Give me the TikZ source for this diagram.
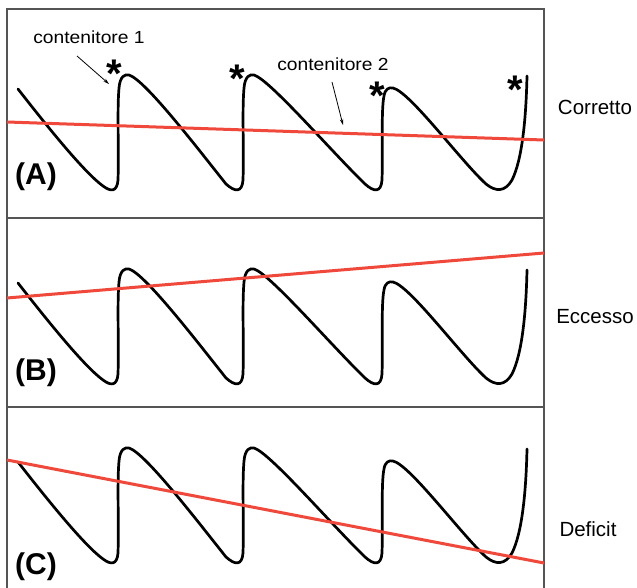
\documentclass[tikz,border=0pt]{standalone}
\usepackage{fontspec}
\setmainfont{Liberation Sans}
\usetikzlibrary{arrows.meta}
\definecolor{redline}{RGB}{240,72,58}
\definecolor{framegray}{RGB}{85,85,85}
\tikzset{
  wave/.style={line width=2.7pt, black, line join=round, line cap=round},
  trend/.style={line width=3pt, redline},
  panel/.style={line width=1.4pt, framegray},
  lab/.style={font=\fontsize{20.5}{24}\selectfont, inner sep=0pt},
  tag/.style={font=\fontsize{30}{34}\selectfont\bfseries, inner sep=0pt},
  note/.style={font=\fontsize{17.5}{20}\selectfont, inner sep=0pt},
  pointer/.style={line width=0.8pt, -{Stealth[length=6pt,width=3.5pt]}},
  astr/.style={font=\fontsize{40}{44}\selectfont\bfseries, inner sep=0pt, anchor=base},
}
\begin{document}
\begin{tikzpicture}[x=1pt,y=-1pt]
\useasboundingbox (0,0) rectangle (637,588);
% frame
\draw[panel] (7,588) -- (7,9) -- (544,9) -- (544,588);
\draw[panel] (7,218) -- (544,218);
\draw[panel] (7,407) -- (544,407);
% waves
\foreach \dy in {0,194,373}{
\begin{scope}[shift={(0,\dy)}]
\draw[wave] (18,89) .. controls (50,130) and (85,173) .. (103,186)
  .. controls (111,192) and (117,192) .. (118,180)
  .. controls (119,150) and (117,110) .. (119,88)
  .. controls (120,76) and (125,74) .. (129,75)
  .. controls (145,80) and (195,145) .. (226,184)
  .. controls (235,192) and (242,193) .. (243,180)
  .. controls (244,150) and (242,110) .. (244,88)
  .. controls (245,76) and (250,74) .. (254,75)
  .. controls (270,80) and (330,150) .. (365,184)
  .. controls (374,192) and (381,193) .. (382,180)
  .. controls (383,150) and (381,110) .. (384,96)
  .. controls (385,89) and (389,87) .. (393,88)
  .. controls (410,92) and (460,160) .. (486,184)
  .. controls (496,192) and (505,192) .. (512,180)
  .. controls (522,160) and (526,120) .. (527,76);
\end{scope}
}
% trend lines
\draw[trend] (7,122) -- (544,140);
\draw[trend] (7,298) -- (544,253);
\draw[trend] (7,460) -- (544,563);
% stars
\node[astr] (s1) at (114,88) {*};
\node[astr] (s2) at (237,93) {*};
\node[astr] (s3) at (377,110) {*};
\node[astr] (s4) at (515,104) {*};
% labels
\node[note] (c1) at (89,37.5) {\scalebox{1.1}[1]{contenitore 1}};
\node[note] (c2) at (333,64) {\scalebox{1.1}[1]{contenitore 2}};
\coordinate (c1s) at (77,56);
\coordinate (c1e) at (109,84);
\coordinate (c2s) at (332,82);
\coordinate (c2e) at (343,125);
\draw[pointer] (c1s) -- (c1e);
\draw[pointer] (c2s) -- (c2e);
\node[tag] (ta) at (36,177) {(A)};
\node[tag] (tb) at (36,373) {(B)};
\node[tag] (tc) at (36,567) {(C)};
\node[lab] (la) at (595,107) {Corretto};
\node[lab] (lb) at (595,317) {Eccesso};
\node[lab] (lc) at (588,529) {Deficit};
\end{tikzpicture}
\end{document}
